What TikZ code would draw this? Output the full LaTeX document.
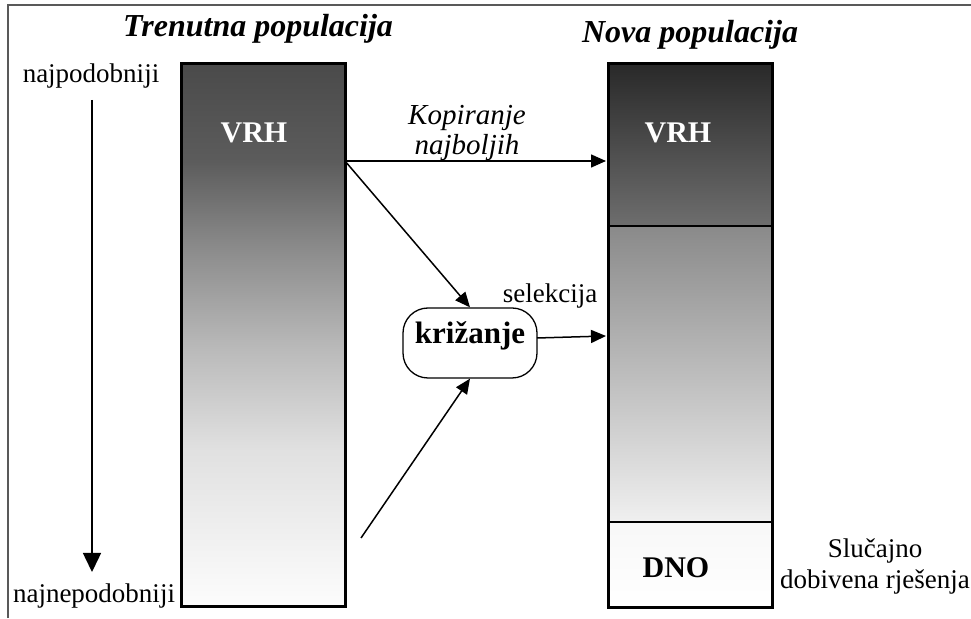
\documentclass[tikz,border=0pt]{standalone}
\usepackage{fontspec}
\setmainfont{Liberation Serif}
\usetikzlibrary{arrows.meta,calc}
\pgfdeclareverticalshading{leftbarshade}{100bp}{color(0bp)=(black!1); color(25bp)=(black!1); color(39.47bp)=(black!12); color(48.63bp)=(black!27); color(57.78bp)=(black!45); color(66.03bp)=(black!64); color(75bp)=(black!71); color(100bp)=(black!71)}
\begin{document}
\begin{tikzpicture}[x=1pt,y=1pt,
  conn/.style={line width=1.5pt,-{Triangle[length=15pt,width=13pt]}},
  txt/.style={inner sep=0pt,anchor=base,font=\fontsize{27}{30}\selectfont},
  titletxt/.style={inner sep=0pt,anchor=base,font=\fontsize{32}{36}\selectfont\bfseries\itshape},
  bartxt/.style={inner sep=0pt,anchor=base,font=\fontsize{30}{36}\selectfont\bfseries},
  barframe/.style={draw=black,line width=3pt,minimum width=164pt,inner sep=0pt},
  framebox/.style={draw=black!65,line width=1.5pt}]
\useasboundingbox (0,0) rectangle (971,618);
\fill[white] (0,0) rectangle (971,618);
% outer frame (only top and left edges visible)
\draw[framebox] (8,0) -- (8,613) -- (971,613);

% left bar
\node[barframe,minimum height=543pt,shading=leftbarshade] (L) at (263.5,283) {};

% right bar regions
\shade[top color=black!84,bottom color=black!57] (608.5,554.5) rectangle (772.5,392);
\shade[top color=black!46,bottom color=black!6] (608.5,392) rectangle (772.5,96);
\shade[top color=black!3,bottom color=white] (608.5,96) rectangle (772.5,10.5);
\node[barframe,minimum height=544pt] (R) at (690.5,282.5) {};
\draw[line width=2.5pt] (R.west |- 0,392) -- (R.east |- 0,392);
\draw[line width=2.5pt] (R.west |- 0,96) -- (R.east |- 0,96);

% titles
\node[titletxt] (t1) at (258,581) {Trenutna populacija};
\node[titletxt] (t2) at (690,575) {Nova populacija};

% side labels
\node[txt] (best) at (91,535) {najpodobniji};
\node[txt] (worst) at (94,16) {najnepodobniji};
\coordinate (a1) at (92,518);
\coordinate (a2) at (92,46);
\draw[line width=1.5pt,-{Triangle[length=19pt,width=18pt]}] (a1) -- (a2);

% bar labels
\node[bartxt,text=white] (vrh1) at (254,475) {VRH};
\node[bartxt,text=white] (vrh2) at (678,475) {VRH};
\node[bartxt] (dno) at (676,41) {DNO};

% copy label
\node[txt,font=\fontsize{29}{30}\selectfont\itshape] (kop1) at (467,493) {Kopiranje};
\node[txt,font=\fontsize{29}{30}\selectfont\itshape] (kop2) at (467,463) {najboljih};

% crossover box
\node[draw,line width=1.3pt,rounded corners=25pt,minimum width=134pt,minimum height=70pt,inner sep=0pt,
      text height=12pt,text depth=10pt,font=\fontsize{31}{36}\selectfont\bfseries] (kriz) at (470,275) {križanje};
\node[txt] (sel) at (550,315) {selekcija};

% random label
\node[txt] (sl1) at (875,60) {Slučajno};
\node[txt] (sl2) at (875,30) {dobivena rješenja};

% connectors
\coordinate (src) at (345,457);
\coordinate (dst1) at (606,457);
\coordinate (src2) at (361,80);
\coordinate (mids) at (537,280);
\coordinate (midd) at (606,282);
\draw[conn] (src) -- (dst1);
\draw[conn] (src) -- (kriz.north);
\draw[conn] (src2) -- (kriz.south);
\draw[conn] (mids) -- (midd);
\end{tikzpicture}
\end{document}
